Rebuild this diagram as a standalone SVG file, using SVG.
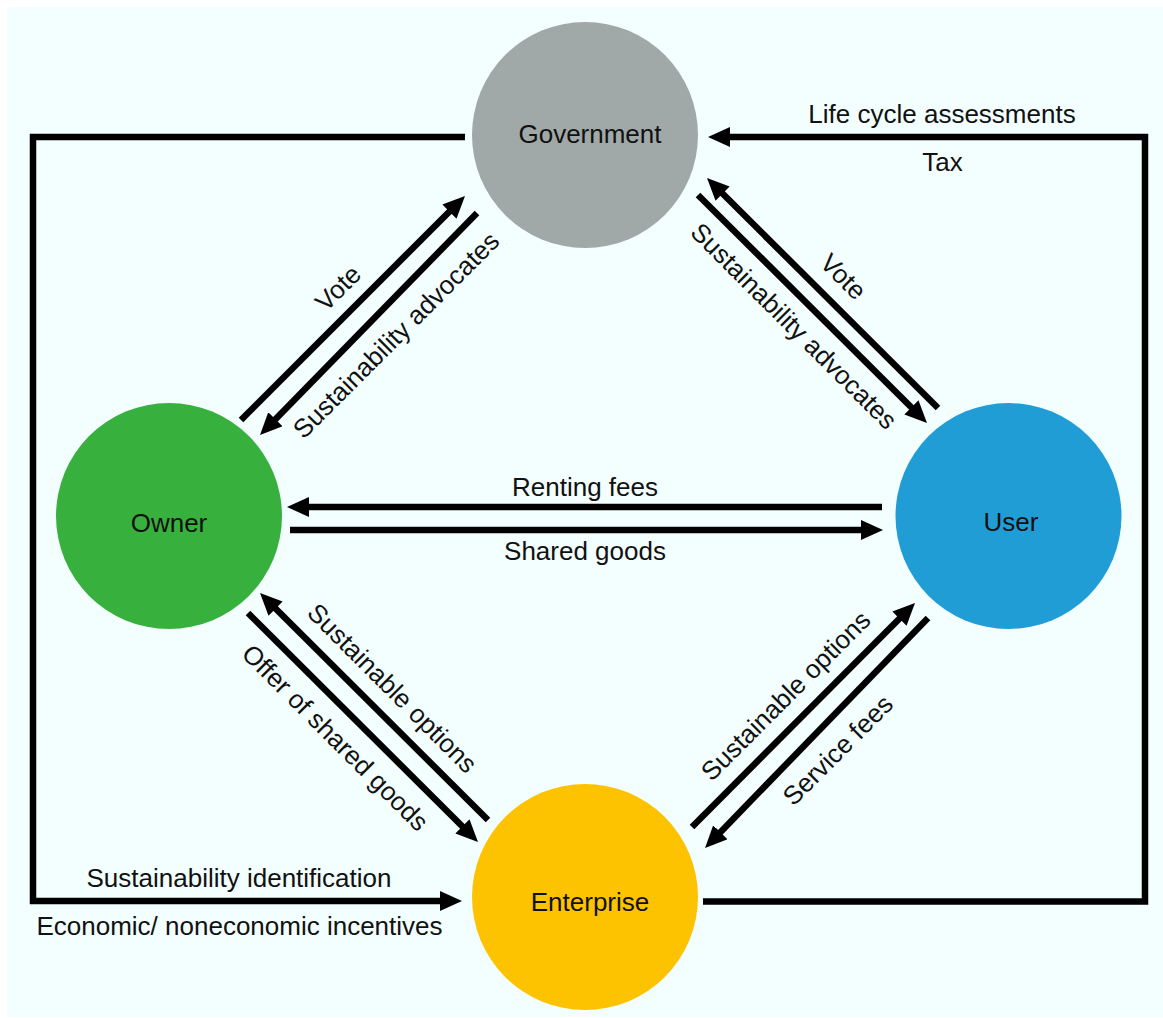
<svg xmlns="http://www.w3.org/2000/svg" width="1163" height="1018" viewBox="0 0 1163 1018">
  <defs>
    <marker id="ah" markerUnits="userSpaceOnUse" markerWidth="22" markerHeight="20" viewBox="0 0 22 20" refX="10" refY="10" orient="auto">
      <path d="M0,0 L22,10 L0,20 Z" fill="#000"/>
    </marker>
    <style>
      text { font-family: "Liberation Sans", Arial, Helvetica, sans-serif; font-size: 26px; fill: #111; }
      .lbl { text-anchor: middle; }
      .c { fill: none; stroke: #000; stroke-width: 6.5; stroke-linejoin: miter; stroke-linecap: butt; }
    </style>
  </defs>
  <rect x="0" y="0" width="1163" height="1018" fill="#ffffff"/>
  <rect x="7" y="7" width="1156" height="1010" fill="#f3fefe"/>

  <g id="connectors">
    <path class="c" d="M465,137 L33,137 L33,901 L450,901" marker-end="url(#ah)"/>
    <path class="c" d="M703,901.5 L1145,901.5 L1145,137 L720,137" marker-end="url(#ah)"/>
    <path class="c" d="M882,507 L299,507" marker-end="url(#ah)"/>
    <path class="c" d="M290,530 L871,530" marker-end="url(#ah)"/>
    <path class="c" d="M241,420 L456.5,204.5" marker-end="url(#ah)"/>
    <path class="c" d="M477,213 L268.4,426.4" marker-end="url(#ah)"/>
    <path class="c" d="M938,408 L715.5,186.5" marker-end="url(#ah)"/>
    <path class="c" d="M698,195 L918.5,414.5" marker-end="url(#ah)"/>
    <path class="c" d="M488,820 L268.5,601.5" marker-end="url(#ah)"/>
    <path class="c" d="M248,613 L469.5,833.5" marker-end="url(#ah)"/>
    <path class="c" d="M692,827 L906.5,611.5" marker-end="url(#ah)"/>
    <path class="c" d="M928,618 L713.4,839.4" marker-end="url(#ah)"/>

    <text class="lbl" x="942" y="123">Life cycle assessments</text>
    <text class="lbl" x="942.5" y="171">Tax</text>
    <text class="lbl" x="239" y="887">Sustainability identification</text>
    <text class="lbl" x="239.5" y="935">Economic/ noneconomic incentives</text>
    <text class="lbl" x="585" y="496">Renting fees</text>
    <text class="lbl" x="585" y="560">Shared goods</text>

    <text class="lbl" transform="translate(344.4,294.4) rotate(-45)">Vote</text>
    <text class="lbl" transform="translate(402.4,341.4) rotate(-45)">Sustainability advocates</text>
    <text class="lbl" transform="translate(837,283) rotate(45)">Vote</text>
    <text class="lbl" transform="translate(787.6,332.4) rotate(45)">Sustainability advocates</text>
    <text class="lbl" transform="translate(386,694.5) rotate(45)">Sustainable options</text>
    <text class="lbl" transform="translate(329,744) rotate(45)">Offer of shared goods</text>
    <text class="lbl" transform="translate(792,702) rotate(-45)">Sustainable options</text>
    <text class="lbl" transform="translate(844,756.5) rotate(-45)">Service fees</text>
  </g>

  <g id="government">
    <circle cx="585" cy="135" r="113" fill="#a1a9a8"/>
    <text class="lbl" x="590" y="143">Government</text>
  </g>
  <g id="owner">
    <circle cx="169" cy="516" r="113" fill="#38b03e"/>
    <text class="lbl" x="169" y="531.5">Owner</text>
  </g>
  <g id="user">
    <circle cx="1008.5" cy="516" r="113" fill="#219dd6"/>
    <text class="lbl" x="1011" y="531">User</text>
  </g>
  <g id="enterprise">
    <circle cx="585" cy="897" r="113" fill="#fec300"/>
    <text class="lbl" x="590" y="911">Enterprise</text>
  </g>
</svg>
